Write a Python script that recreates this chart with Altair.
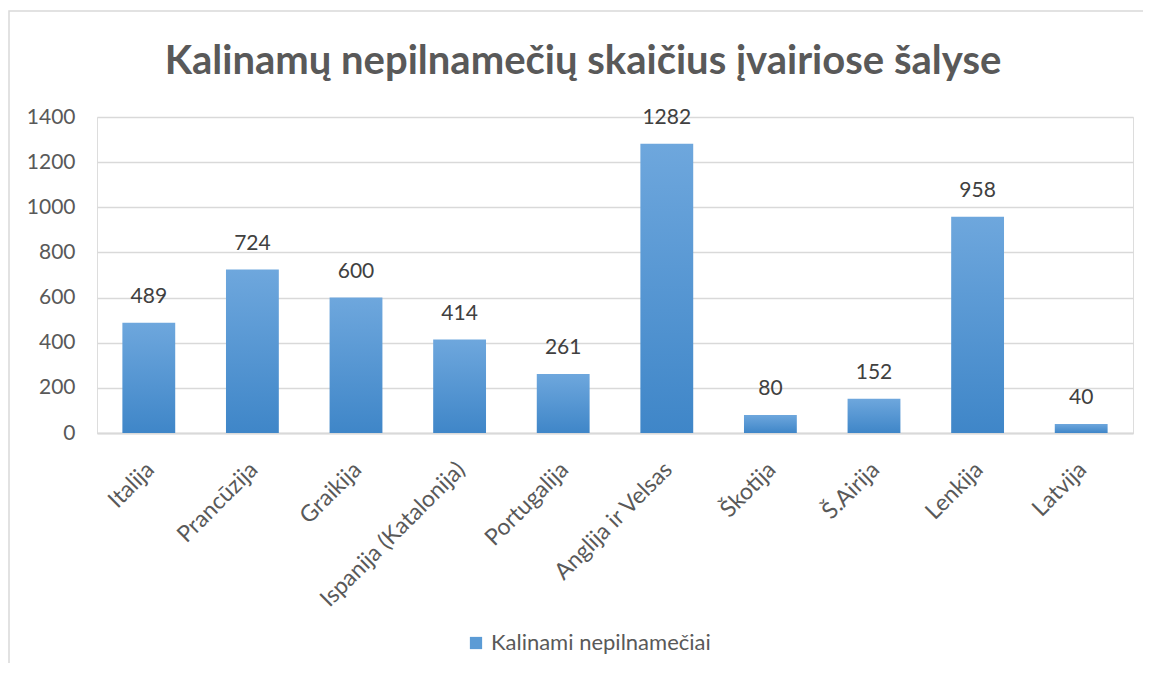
import altair as alt
import pandas as pd

countries = ["Italija", "Prancūzija", "Graikija", "Ispanija (Katalonija)", "Portugalija",
             "Anglija ir Velsas", "Škotija", "Š.Airija", "Lenkija", "Latvija"]
values = [489, 724, 600, 414, 261, 1282, 80, 152, 958, 40]
series_name = "Kalinami nepilnamečiai"
title_text = "Kalinamų nepilnamečių skaičius įvairiose šalyse"

df = pd.DataFrame({"country": countries, "value": values, "series": series_name})

FONT = "Lato"
grad = alt.LinearGradient(
    gradient="linear",
    stops=[alt.GradientStop(color="#6ea7dd", offset=0),
           alt.GradientStop(color="#3f86c8", offset=1)],
    x1=0, x2=0, y1=0, y2=1,
)

x_enc = alt.X("country:N", sort=countries, title=None,
              scale=alt.Scale(paddingInner=0.49, paddingOuter=0.245),
              axis=alt.Axis(labelAngle=-45, labelFontSize=23, labelColor="#595959",
                            labelFont=FONT, ticks=False, domainColor="#d9d9d9",
                            domainWidth=2, labelPadding=25, labelOffset=-6, labelLimit=400))
y_enc = alt.Y("value:Q", title=None,
              scale=alt.Scale(domain=[0, 1400]),
              axis=alt.Axis(values=list(range(0, 1401, 200)), format="d", labelFontSize=21,
                            labelColor="#595959", labelFont=FONT, ticks=False,
                            domain=False, gridColor="#d9d9d9", gridWidth=1.5,
                            labelPadding=22))

base = alt.Chart(df)

bars = base.mark_bar(color=grad).encode(x=x_enc, y=y_enc)

legend_layer = base.mark_bar(opacity=0).encode(
    x=alt.X("country:N", sort=countries),
    y=alt.Y("value:Q"),
    color=alt.Color("series:N", scale=alt.Scale(range=["#5b9bd5"]),
                    legend=alt.Legend(title=None, orient="none", legendX=368, legendY=515,
                                      symbolType="square", symbolSize=150,
                                      symbolOpacity=1, symbolStrokeWidth=0,
                                      labelFontSize=22, labelFont=FONT, labelLimit=400,
                                      labelColor="#595959", labelOffset=4)),
)

labels = base.mark_text(dy=-26, fontSize=21, font=FONT, color="#404040").encode(
    x=alt.X("country:N", sort=countries), y="value:Q", text="value:Q")

border = alt.Chart(pd.DataFrame({"a": [0]})).mark_rect(
    fill=None, stroke="#d9d9d9", strokeWidth=1.5).encode(
    x=alt.value(-88), x2=alt.value(1048), y=alt.value(-106), y2=alt.value(580))

chart = alt.layer(border, bars, legend_layer, labels).properties(
    width=1036, height=316,
    title=alt.TitleParams(title_text, fontSize=40, font=FONT, fontWeight="bold",
                          color="#595959", anchor="middle", dx=-32, offset=-72),
    padding={"left": 89, "top": 109, "right": 10, "bottom": 230},
    autosize=alt.AutoSizeParams(type="none"),
).configure_view(stroke=None).configure(background="white")

chart.save("out.html", embed_options={"renderer": "svg", "actions": False})
